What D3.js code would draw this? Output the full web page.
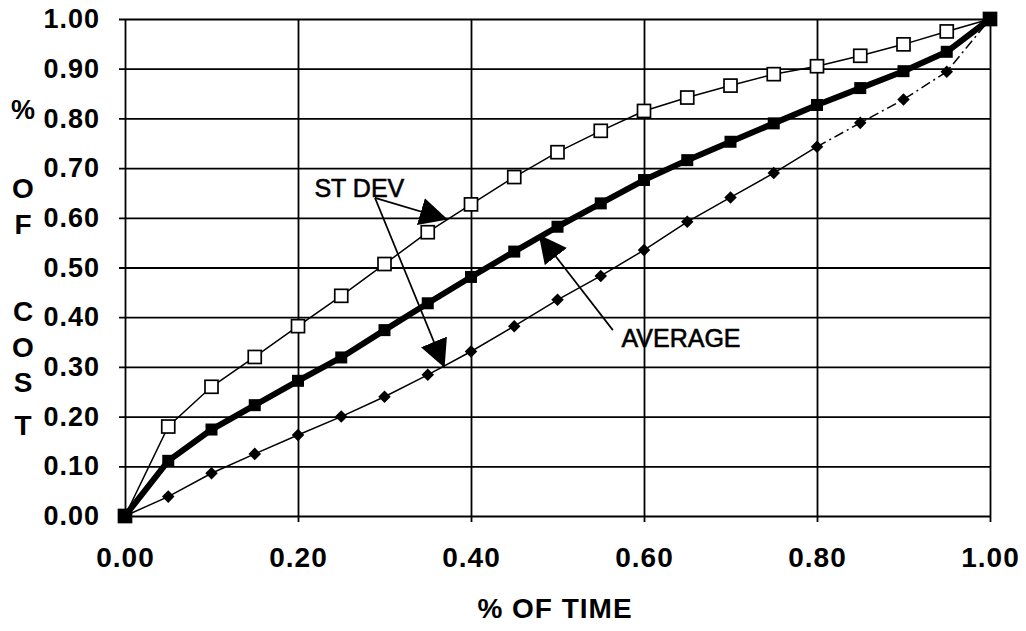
<!DOCTYPE html>
<html>
<head>
<meta charset="utf-8">
<script src="https://cdn.jsdelivr.net/npm/d3@7"></script>
<style>
  body { margin: 0; background: #fff; }
  text { font-family: "Liberation Sans", Arial, sans-serif; fill: #000; }
</style>
</head>
<body>
<script>
// share of time (x) at each sample point
const timeShare = [0, 0.05, 0.10, 0.15, 0.20, 0.25, 0.30, 0.35, 0.40, 0.45, 0.50,
  0.55, 0.60, 0.65, 0.70, 0.75, 0.80, 0.85, 0.90, 0.95, 1.00];

// + st dev curve (open squares)
const upperCost = [0, 0.180, 0.260, 0.320, 0.382, 0.443, 0.507, 0.571, 0.627, 0.682, 0.732,
  0.775, 0.815, 0.842, 0.866, 0.889, 0.905, 0.926, 0.949, 0.975, 1.00];
// average curve (thick, filled squares)
const avgCost = [0, 0.111, 0.174, 0.223, 0.272, 0.319, 0.374, 0.428, 0.481, 0.532, 0.582,
  0.629, 0.676, 0.716, 0.753, 0.790, 0.827, 0.861, 0.895, 0.934, 1.00];
// - st dev curve (diamonds)
const lowerCost = [0, 0.039, 0.086, 0.125, 0.163, 0.200, 0.240, 0.284, 0.331, 0.382, 0.435,
  0.483, 0.535, 0.592, 0.641, 0.690, 0.743, 0.791, 0.838, 0.894, 1.00];

const xTicks = [0, 0.2, 0.4, 0.6, 0.8, 1.0];
const yTicks = [0, 0.1, 0.2, 0.3, 0.4, 0.5, 0.6, 0.7, 0.8, 0.9, 1.0];

const totalWidth = 1026;
const totalHeight = 631;
const margin = { top: 19, right: 36, bottom: 115, left: 125 };
const width = totalWidth - margin.left - margin.right;
const height = totalHeight - margin.top - margin.bottom;

const svg = d3.select("body")
  .append("svg")
  .attr("width", totalWidth)
  .attr("height", totalHeight);

const g = svg.append("g")
  .attr("transform", `translate(${margin.left}, ${margin.top})`);

const xScale = d3.scaleLinear().domain([0, 1]).range([0, width]);
const yScale = d3.scaleLinear().domain([0, 1]).range([height, 0]);

// grid + ticks, ticks stick out 6px past the frame
const yAxis = g.append("g")
  .attr("transform", "translate(-6, 0)")
  .call(d3.axisLeft(yScale)
    .tickValues(yTicks)
    .tickFormat(d3.format(".2f"))
    .tickSize(-(width + 6))
    .tickPadding(19));

const xAxis = g.append("g")
  .attr("transform", `translate(0, ${height + 6})`)
  .call(d3.axisBottom(xScale)
    .tickValues(xTicks)
    .tickFormat(d3.format(".2f"))
    .tickSize(-(height + 6))
    .tickPadding(25));

[yAxis, xAxis].forEach(ax => {
  ax.select(".domain").remove();
  ax.selectAll(".tick line").attr("stroke", "#000").attr("stroke-width", 1.8);
  ax.selectAll(".tick text")
    .style("font-weight", "bold")
    .style("letter-spacing", "1px");
});
xAxis.selectAll(".tick text").style("font-size", "28px");
yAxis.selectAll(".tick text").style("font-size", "27px");

const line = d3.line()
  .x(d => xScale(d[0]))
  .y(d => yScale(d[1]));

const upper = timeShare.map((t, i) => [t, upperCost[i]]);
const avg = timeShare.map((t, i) => [t, avgCost[i]]);
const lower = timeShare.map((t, i) => [t, lowerCost[i]]);

g.append("path")
  .datum(upper)
  .attr("d", line)
  .attr("fill", "none")
  .attr("stroke", "#000")
  .attr("stroke-width", 1.5);

// lower curve goes dash-dot past 0.80
g.append("path")
  .datum(lower.slice(0, 17))
  .attr("d", line)
  .attr("fill", "none")
  .attr("stroke", "#000")
  .attr("stroke-width", 1.5);

g.append("path")
  .datum(lower.slice(16))
  .attr("d", line)
  .attr("fill", "none")
  .attr("stroke", "#000")
  .attr("stroke-width", 1.5)
  .attr("stroke-dasharray", "10,4,2,4");

g.append("path")
  .datum(avg)
  .attr("d", line)
  .attr("fill", "none")
  .attr("stroke", "#000")
  .attr("stroke-width", 6)
  .attr("stroke-linejoin", "round");

g.selectAll(".up")
  .data(upper)
  .enter()
  .append("rect")
  .attr("x", d => xScale(d[0]) - 6.5)
  .attr("y", d => yScale(d[1]) - 6.5)
  .attr("width", 13)
  .attr("height", 13)
  .attr("fill", "#fff")
  .attr("stroke", "#000")
  .attr("stroke-width", 1.7);

g.selectAll(".lo")
  .data(lower)
  .enter()
  .append("path")
  .attr("d", d3.symbol(d3.symbolDiamond2, 100))
  .attr("transform", d => `translate(${xScale(d[0])}, ${yScale(d[1])})`)
  .attr("fill", "#000");

g.selectAll(".av")
  .data(avg)
  .enter()
  .append("rect")
  .attr("x", d => xScale(d[0]) - 6)
  .attr("y", d => yScale(d[1]) - 6)
  .attr("width", 12)
  .attr("height", 12)
  .attr("fill", "#000");

// annotations: callout text and arrows
svg.append("defs")
  .append("marker")
  .attr("id", "head")
  .attr("markerUnits", "userSpaceOnUse")
  .attr("markerWidth", 28)
  .attr("markerHeight", 30)
  .attr("refX", 27)
  .attr("refY", 14)
  .attr("orient", "auto")
  .append("path")
  .attr("d", "M0,0 L28,14 L0,28 Z")
  .attr("fill", "#000");

const arrows = [
  { from: [0.289, 0.640], to: [0.372, 0.597] },
  { from: [0.289, 0.640], to: [0.369, 0.300] },
  { from: [0.564, 0.374], to: [0.479, 0.565] }
];

g.selectAll(".arrow")
  .data(arrows)
  .enter()
  .append("line")
  .attr("x1", d => xScale(d.from[0]))
  .attr("y1", d => yScale(d.from[1]))
  .attr("x2", d => xScale(d.to[0]))
  .attr("y2", d => yScale(d.to[1]))
  .attr("stroke", "#000")
  .attr("stroke-width", 1.7)
  .attr("marker-end", "url(#head)");

const callouts = [
  { text: "ST DEV", at: [0.219, 0.642] },
  { text: "AVERAGE", at: [0.574, 0.340] }
];

g.selectAll(".callout")
  .data(callouts)
  .enter()
  .append("text")
  .attr("x", d => xScale(d.at[0]))
  .attr("y", d => yScale(d.at[1]))
  .style("font-size", "25px")
  .attr("stroke", "#000")
  .attr("stroke-width", 0.6)
  .text(d => d.text);

// axis titles
svg.append("text")
  .attr("x", 555)
  .attr("y", 618)
  .attr("text-anchor", "middle")
  .style("font-size", "28px")
  .style("font-weight", "bold")
  .style("letter-spacing", "1px")
  .text("% OF TIME");

const yTitle = [["%", 109], ["O", 188], ["F", 224], ["C", 311], ["O", 347], ["S", 382], ["T", 425]];
svg.selectAll(".ytitle")
  .data(yTitle)
  .enter()
  .append("text")
  .attr("x", 23)
  .attr("y", d => d[1])
  .attr("dy", "0.36em")
  .attr("text-anchor", "middle")
  .style("font-size", d => d[0] === "%" ? "27px" : "28px")
  .style("font-weight", "bold")
  .text(d => d[0]);
</script>
</body>
</html>
